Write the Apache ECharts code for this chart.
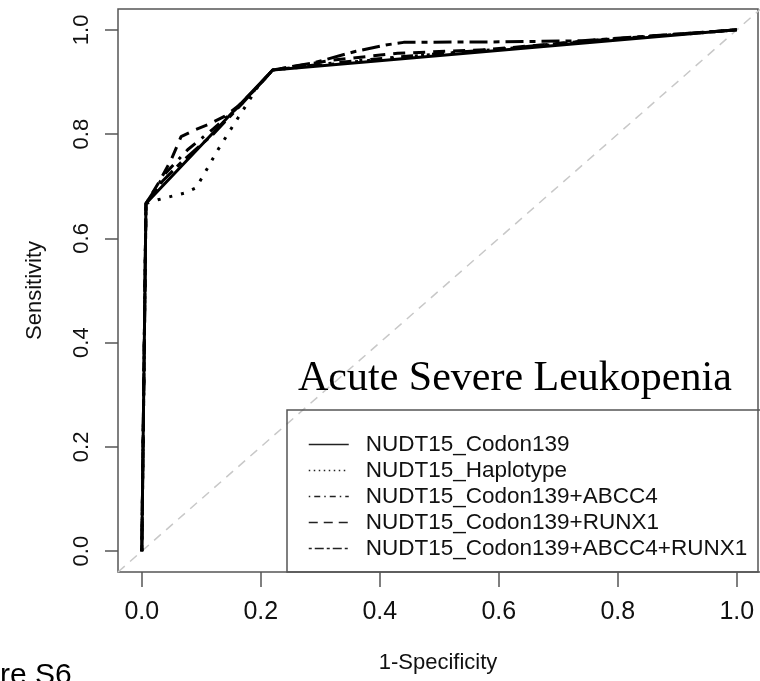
<!DOCTYPE html>
<html><head><meta charset="utf-8">
<script src="https://cdn.jsdelivr.net/npm/echarts@6/dist/echarts.min.js"></script>
<style>html,body{margin:0;padding:0;background:#fff}#c{width:760px;height:681px}</style>
</head><body><div id="c"></div>
<script>
// tick labels
const xTicks = [0, 0.2, 0.4, 0.6, 0.8, 1.0];
const yTicks = [0, 0.2, 0.4, 0.6, 0.8, 1.0];
const seriesNames = ['NUDT15_Codon139', 'NUDT15_Haplotype', 'NUDT15_Codon139+ABCC4', 'NUDT15_Codon139+RUNX1', 'NUDT15_Codon139+ABCC4+RUNX1'];

// ROC curves: 1-Specificity (FPR) and Sensitivity
const codonFpr = [0, 0.007, 0.22, 1];
const codonSens = [0, 0.667, 0.923, 1];

const haploFpr = [0, 0.007, 0.027, 0.072, 0.091, 0.102, 0.128, 0.156, 0.178, 0.195, 0.22, 0.45, 0.75, 1];
const haploSens = [0, 0.667, 0.674, 0.687, 0.697, 0.718, 0.770, 0.821, 0.860, 0.891, 0.923, 0.949, 0.977, 1];

const abcc4Fpr = [0, 0.007, 0.04, 0.077, 0.12, 0.17, 0.22, 0.30, 0.45, 0.60, 0.74, 1];
const abcc4Sens = [0, 0.667, 0.725, 0.770, 0.810, 0.860, 0.923, 0.934, 0.950, 0.963, 0.978, 1];

const runx1Fpr = [0, 0.007, 0.03, 0.049, 0.066, 0.089, 0.111, 0.139, 0.161, 0.19, 0.22, 0.32, 0.43, 0.58, 0.74, 1];
const runx1Sens = [0, 0.667, 0.71, 0.750, 0.795, 0.808, 0.818, 0.834, 0.853, 0.885, 0.923, 0.942, 0.955, 0.962, 0.978, 1];

const bothFpr = [0, 0.007, 0.035, 0.07, 0.12, 0.17, 0.22, 0.29, 0.36, 0.41, 0.44, 0.61, 0.74, 1];
const bothSens = [0, 0.667, 0.710, 0.750, 0.800, 0.860, 0.923, 0.937, 0.959, 0.971, 0.976, 0.977, 0.979, 1];

// reference diagonal
const diagFpr = [-0.04, 1.04];
const diagSens = [-0.04, 1.04];

const pairs = (xs, ys) => xs.map((x, i) => [x, ys[i]]);

const FONT = 'Liberation Sans';
const chart = echarts.init(document.getElementById('c'), null, {renderer: 'canvas'});

const curveDefs = [
  {name: seriesNames[0], x: codonFpr, y: codonSens, type: 'solid', legendType: 'solid'},
  {name: seriesNames[1], x: haploFpr, y: haploSens, type: [3, 9], legendType: [1.5, 3.5]},
  {name: seriesNames[2], x: abcc4Fpr, y: abcc4Sens, type: [3, 8, 12, 8], legendType: [1.5, 4, 6, 4]},
  {name: seriesNames[3], x: runx1Fpr, y: runx1Sens, type: [12, 8], legendType: [9, 6]},
  {name: seriesNames[4], x: bothFpr, y: bothSens, type: [6, 6, 18, 6], legendType: [3, 3, 9, 3]}
];

const series = [{
  type: 'line', name: 'diag', data: pairs(diagFpr, diagSens), symbol: 'none', silent: true,
  lineStyle: {color: '#c8c8c8', width: 1.5, type: [9, 7]}, z: 1
}].concat(curveDefs.map(d => ({
  type: 'line', name: d.name, data: pairs(d.x, d.y), symbol: 'none', showSymbol: false,
  lineStyle: {color: '#000', width: 3, type: d.type, cap: 'butt'}, itemStyle: {color: '#000'}, z: 3
})));

chart.setOption({
  animation: false,
  backgroundColor: '#fff',
  grid: {left: 118, top: 9, width: 640, height: 563, show: true, borderColor: '#555', borderWidth: 1.5, backgroundColor: 'transparent'},
  xAxis: {
    type: 'value', min: -0.04, max: 1.0356,
    splitLine: {show: false}, axisLine: {show: false, onZero: false},
    axisTick: {show: true, inside: false, customValues: xTicks, length: 15, lineStyle: {color: '#555', width: 1.5}},
    axisLabel: {customValues: xTicks, formatter: v => v.toFixed(1), margin: 28, fontFamily: FONT, fontSize: 25, color: '#111'},
    name: '1-Specificity', nameLocation: 'middle', nameGap: 80,
    nameTextStyle: {fontFamily: FONT, fontSize: 22, color: '#111'}
  },
  yAxis: {
    type: 'value', min: -0.04, max: 1.04,
    splitLine: {show: false}, axisLine: {show: false, onZero: false},
    axisTick: {show: true, inside: false, customValues: yTicks, length: 13, lineStyle: {color: '#555', width: 1.5}},
    axisLabel: {customValues: yTicks, formatter: v => v.toFixed(1), margin: 25, rotate: 90, fontFamily: FONT, fontSize: 22, color: '#111'},
    name: 'Sensitivity', nameLocation: 'middle', nameGap: 72, nameRotate: 90,
    nameTextStyle: {fontFamily: FONT, fontSize: 22, color: '#111'}
  },
  legend: {
    orient: 'vertical', left: 303, top: 428, itemWidth: 40, itemHeight: 14, itemGap: 3,
    data: curveDefs.map(d => ({name: d.name, lineStyle: {type: d.legendType, width: 1.5, color: '#222'}})),
    lineStyle: {width: 1.5},
    itemStyle: {opacity: 0},
    textStyle: {fontFamily: FONT, fontSize: 22.5, color: '#111', lineHeight: 22, padding: [0, 0, 0, 12]},
    selectedMode: false
  },
  graphic: [
    {type: 'rect', shape: {x: 287, y: 410, width: 500, height: 162}, style: {fill: 'none', stroke: '#555', lineWidth: 1.5}, z: 10, silent: true},
    {type: 'text', x: 298, y: 379, style: {text: 'Acute Severe Leukopenia', font: '42px "Liberation Serif"', fill: '#000', verticalAlign: 'middle'}, z: 10},
    {type: 'text', x: 0, y: 676, style: {text: 're S6', font: '30px "Liberation Sans"', fill: '#000', verticalAlign: 'middle'}, z: 10}
  ],
  series: series
});
</script></body></html>
